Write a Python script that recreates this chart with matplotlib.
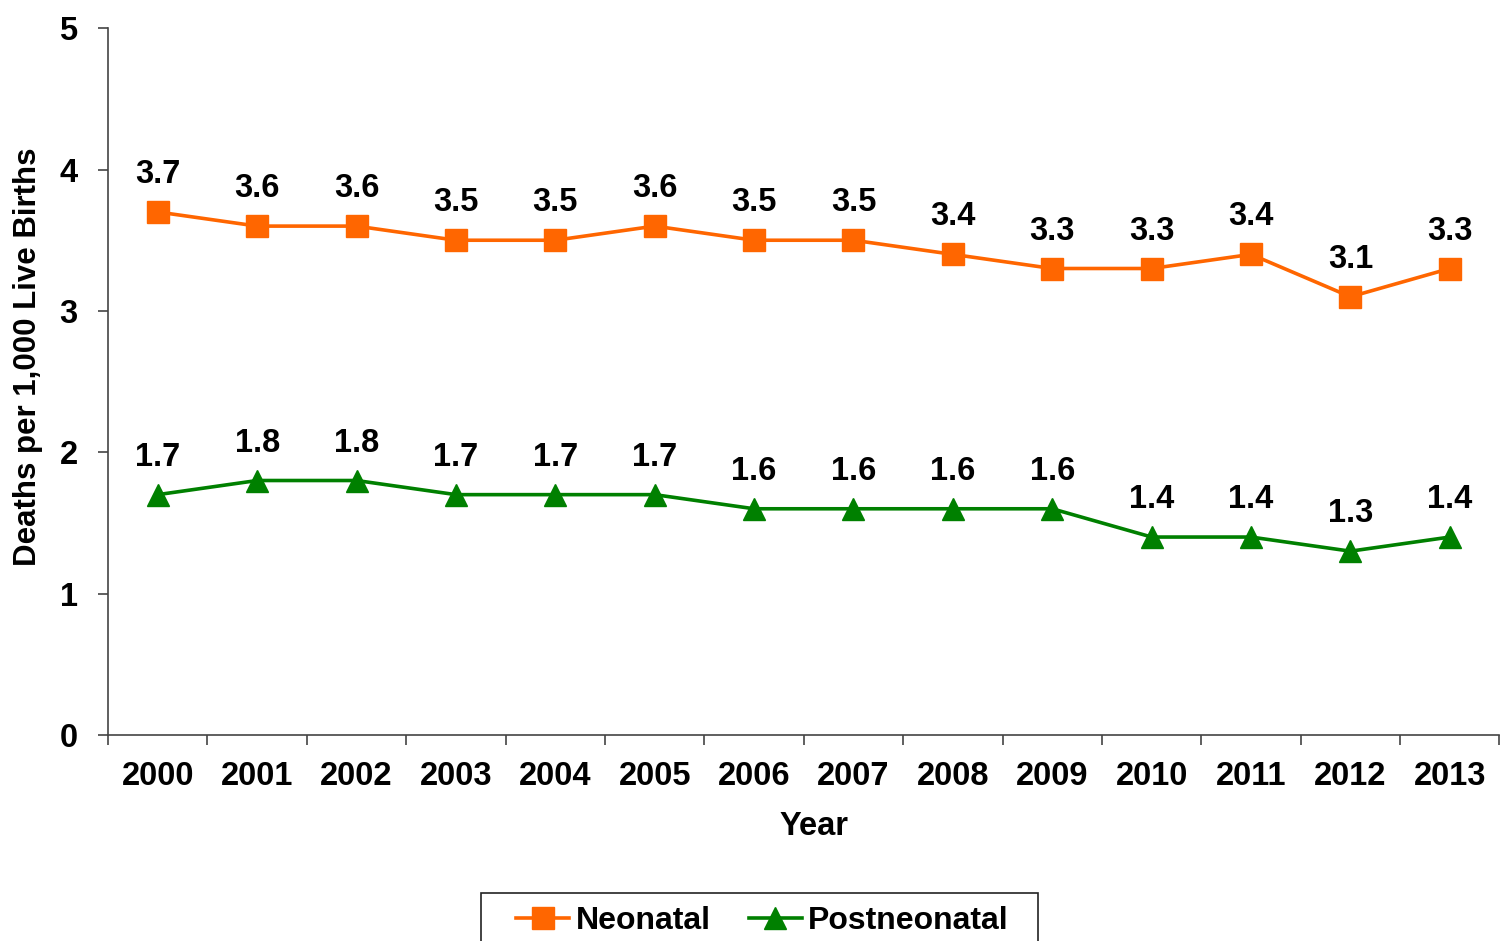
import matplotlib
matplotlib.use("Agg")
import matplotlib.pyplot as plt
from matplotlib.patches import Rectangle

plt.rcParams['font.family'] = ['Liberation Sans', 'DejaVu Sans']
plt.rcParams['font.weight'] = 'bold'

years = ['2000', '2001', '2002', '2003', '2004', '2005', '2006',
         '2007', '2008', '2009', '2010', '2011', '2012', '2013']
neonatal = [3.7, 3.6, 3.6, 3.5, 3.5, 3.6, 3.5, 3.5, 3.4, 3.3, 3.3, 3.4, 3.1, 3.3]
postneonatal = [1.7, 1.8, 1.8, 1.7, 1.7, 1.7, 1.6, 1.6, 1.6, 1.6, 1.4, 1.4, 1.3, 1.4]

fs = 23.5
fig = plt.figure(figsize=(15.01, 9.41), dpi=100)
ax = fig.add_axes([0.072, 0.219, 0.927, 0.751])

x = list(range(len(years)))
ax.plot(x, neonatal, color='#FF6600', lw=2.6, marker='s', ms=16.5,
        label='Neonatal', clip_on=False)
ax.plot(x, postneonatal, color='#008000', lw=2.6, marker='^', ms=16,
        label='Postneonatal', clip_on=False)

for xi, v in zip(x, neonatal):
    ax.annotate(f'{v:.1f}', (xi, v), xytext=(0, 27), textcoords='offset points',
                ha='center', va='center', fontsize=fs, fontweight='bold')
for xi, v in zip(x, postneonatal):
    ax.annotate(f'{v:.1f}', (xi, v), xytext=(0, 27), textcoords='offset points',
                ha='center', va='center', fontsize=fs, fontweight='bold')

ax.set_xlim(-0.5, len(years) - 0.5)
ax.set_ylim(0, 5)
ax.set_yticks([0, 1, 2, 3, 4, 5])
ax.set_xticks(x)
ax.set_xticklabels(years)
ax.set_xticks([i - 0.5 for i in range(len(years) + 1)], minor=True)
ax.tick_params(axis='x', which='major', length=0, pad=19, labelsize=fs)
ax.tick_params(axis='x', which='minor', length=7, width=1.2, color='#444444', direction='out')
ax.tick_params(axis='y', length=7, width=1.2, color='#444444', pad=15, labelsize=fs)
for lab in ax.get_xticklabels() + ax.get_yticklabels():
    lab.set_fontweight('bold')

for s in ['top', 'right']:
    ax.spines[s].set_visible(False)
for s in ['left', 'bottom']:
    ax.spines[s].set_color('#444444')
    ax.spines[s].set_linewidth(1.2)

ax.set_xlabel('Year', fontsize=fs, fontweight='bold')
ax.set_ylabel('Deaths per 1,000 Live Births', fontsize=22.5, fontweight='bold')
ax.yaxis.set_label_coords(-0.047, 0.535)
ax.xaxis.set_label_coords(0.507, -0.107)

# legend box drawn separately (wide side padding like the original)
fig.patches.append(Rectangle((0.3205, -0.02), 0.371, 0.071, transform=fig.transFigure,
                             fill=False, edgecolor='#222222', lw=1.2))
leg = fig.legend(loc='center', bbox_to_anchor=(0.508, 0.021), ncol=2,
                 fontsize=23, frameon=False, borderpad=0, borderaxespad=0,
                 handlelength=1.66, columnspacing=1.2, handletextpad=0.2)
for t in leg.get_texts():
    t.set_fontweight('bold')

fig.savefig('out.png', dpi=100)
